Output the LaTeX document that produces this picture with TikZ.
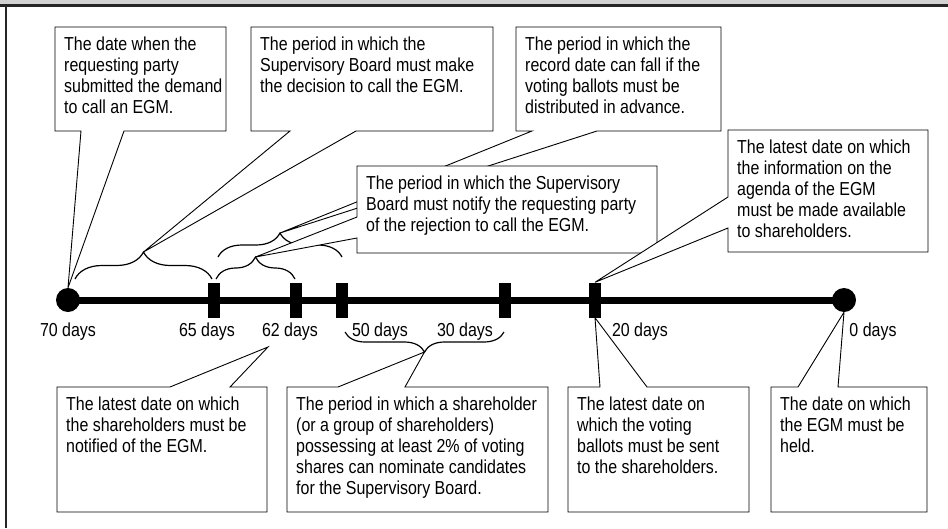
\documentclass[tikz,border=0pt]{standalone}
\usepackage{fontspec}
\setmainfont{Liberation Sans}[FakeStretch=0.85]
\usepackage{tikz}
\usetikzlibrary{positioning}
\usetikzlibrary{decorations.pathreplacing}
\usetikzlibrary{calc}

\tikzset{
  callout/.style={draw=black, fill=white, line width=0.9pt, line join=miter},
  boxtext/.style={anchor=north west, align=left, inner xsep=9pt, inner ysep=10pt, font=\fontsize{18.8}{21}\selectfont},
  daylab/.style={anchor=base, font=\fontsize{18.8}{21}\selectfont},
  tickbar/.style={fill=black, minimum width=12pt, minimum height=35pt, inner sep=0pt},
  enddot/.style={circle, fill=black, minimum size=24pt, inner sep=0pt},
  brc/.style={decorate, decoration={brace, amplitude=#1}, line width=1.2pt},
}

\begin{document}
\begin{tikzpicture}[x=1pt, y=-1pt]
  \useasboundingbox (0,0) rectangle (948,528);

  % frame
  \fill[gray!35] (0,0) rectangle (948,4);
  \fill[black!85] (0,4) rectangle (948,7);
  \fill[black!85] (5,4) rectangle (7,528);

  \def\ty{300};

  % time line
  \node[enddot] (d70) at (68,\ty) {};
  \node[enddot] (d0) at (844,\ty) {};
  \draw[line width=7pt] (d70.center) -- (d0.center);
  \foreach \x/\name in {214/t65, 296/t62, 342/t50, 505/t30, 595/t20} {
    \node[tickbar] (\name) at (\x,\ty) {};
  }
  \foreach \x/\num/\name in {68/70/l70, 207/65/l65, 290/62/l62, 380/50/l50, 465/30/l30, 640/20/l20, 873/0/l0} {
    \node[daylab] (\name) at (\x,336) {\num\ days};
  }

  % braces
  \draw[brc=27pt] (75,279) -- (212,279);
  \draw[brc=22pt] (216,279) -- (295,279);
  \draw[brc=24pt] (218,257) -- (342,257);
  \draw[brc=20pt] (504,332) -- (345,332);
  \coordinate (bB) at (143.5,252);
  \coordinate (bD) at (255.5,257);
  \coordinate (bC) at (280,233);
  \coordinate (bF) at (424.5,352);
  \coordinate (pE) at (268,347);

  % upper callouts
  \draw[callout] (55,27) -- (226,27) -- (226,131) -- (124,131) -- (d70.north) -- (81,131) -- (55,131) -- cycle;
  \node[boxtext] (txtA) at (55,27) {The date when the\\requesting party\\submitted the demand\\to call an EGM.};

  \draw[callout] (251,27) -- (493,27) -- (493,131) -- (356,131) -- (bB) -- (290,131) -- (251,131) -- cycle;
  \node[boxtext] (txtB) at (251,27) {The period in which the\\Supervisory Board must make\\the decision to call the EGM.};

  \draw[callout] (516,27) -- (721,27) -- (721,131) -- (597,131) -- (bC) -- (532,131) -- (516,131) -- cycle;
  \node[boxtext] (txtC) at (516,27) {The period in which the\\record date can fall if the\\voting ballots must be\\distributed in advance.};

  \draw[callout] (357,166) -- (657,166) -- (657,253) -- (357,253) -- (357,238) -- (bD) -- (357,217) -- cycle;
  \node[boxtext] (txtD) at (357,166) {The period in which the Supervisory\\Board must notify the requesting party\\of the rejection to call the EGM.};

  \draw[callout] (728,130) -- (928,130) -- (928,252) -- (728,252) -- (728,228) -- (t20.north) -- (728,197) -- cycle;
  \node[boxtext] (txtI) at (728,130) {The latest date on which\\the information on the\\agenda of the EGM\\must be made available\\to shareholders.};

  % lower callouts
  \draw[callout] (57,387) -- (170,387) -- (pE) -- (230,387) -- (267,387) -- (267,512) -- (57,512) -- cycle;
  \node[boxtext] (txtE) at (57,387) {The latest date on which\\the shareholders must be\\notified of the EGM.};

  \draw[callout] (287,387) -- (338,387) -- (bF) -- (405,387) -- (548,387) -- (548,512) -- (287,512) -- cycle;
  \node[boxtext] (txtF) at (287,387) {The period in which a shareholder\\(or a group of shareholders)\\possessing at least 2\% of voting\\shares can nominate candidates\\for the Supervisory Board.};

  \draw[callout] (568,387) -- (600,387) -- (t20.south) -- (647,387) -- (749,387) -- (749,512) -- (568,512) -- cycle;
  \node[boxtext] (txtG) at (568,387) {The latest date on\\which the voting\\ballots must be sent\\to the shareholders.};

  \draw[callout] (771,387) -- (798,387) -- (d0.south) -- (838,387) -- (927,387) -- (927,512) -- (771,512) -- cycle;
  \node[boxtext] (txtH) at (771,387) {The date on which\\the EGM must be\\held.};
\end{tikzpicture}
\end{document}
